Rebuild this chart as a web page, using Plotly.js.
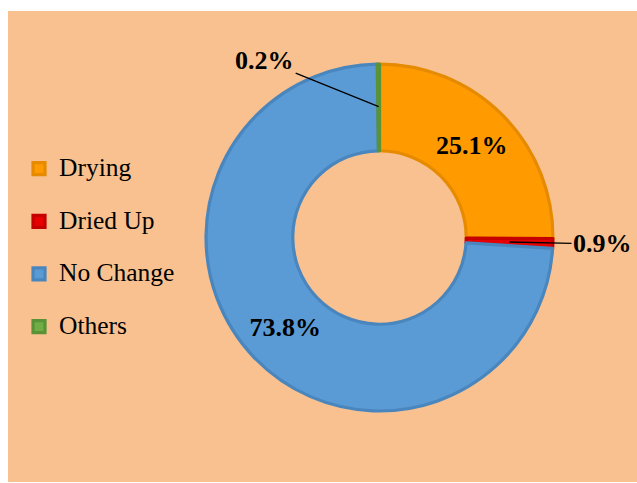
<!DOCTYPE html>
<html>
<head>
<meta charset="utf-8">
<script src="https://cdn.plot.ly/plotly-3.0.1.min.js"></script>
<style>
  html, body { margin: 0; padding: 0; background: #ffffff; width: 637px; height: 483px; overflow: hidden; }
  #chart { position: absolute; left: 8px; top: 11px; width: 629px; height: 471px; }
</style>
</head>
<body>
<div id="chart"></div>
<script>
// ---- data ----
const categories = ["Drying", "Dried Up", "No Change", "Others"];
const shares = [25.1, 0.9, 73.8, 0.2];
const fillColors = ["#FF9A00", "#E80000", "#5B9BD5", "#70AD47"];
const edgeColors = ["#E68A00", "#C40000", "#4A86BE", "#5A9238"];
const insideLabels = ["inside", "none", "inside", "none"];

// ---- geometry / layout constants ----
const W = 629, H = 471;
const domX = [0.3148, 0.8664];
const domY = [0.1508, 0.8874];
const serif = "Liberation Serif, Times New Roman, serif";

// legend labels: category text in a larger span, with a blank second line for spacing
const legendLabels = categories.map(c => '<span style="font-size:25.5px">' + c + '</span><br> ');

const trace = {
  type: "pie",
  labels: legendLabels,
  values: shares,
  sort: false,
  direction: "clockwise",
  rotation: 0,
  hole: 0.5,
  domain: { x: domX, y: domY },
  marker: { colors: fillColors, line: { color: edgeColors, width: 3.2 } },
  textinfo: "percent",
  texttemplate: "%{percent:.1%}",
  textposition: insideLabels,
  insidetextorientation: "horizontal",
  textfont: { family: serif, size: 26, color: "#000000", weight: "bold" },
  hoverinfo: "skip",
  showlegend: true
};

// leader-line annotations for the thin slices, anchored at their mid-angle
const total = shares.reduce((a, b) => a + b, 0);
const cx = (domX[0] + domX[1]) / 2, cy = (domY[0] + domY[1]) / 2;
const R = Math.min((domX[1] - domX[0]) * W, (domY[1] - domY[0]) * H) / 2;
function anchor(i, frac) {
  let cum = 0;
  for (let k = 0; k < i; k++) cum += shares[k];
  const mid = (cum + shares[i] / 2) / total * 2 * Math.PI;
  return { x: cx + frac * R * Math.sin(mid) / W, y: cy + frac * R * Math.cos(mid) / H };
}
const a1 = anchor(1, 0.75);
const a3 = anchor(3, 0.755);
const annFont = { family: serif, size: 26, color: "#000000", weight: "bold" };
const annotations = [
  { xref: "paper", yref: "paper", x: a1.x, y: a1.y, text: shares[1].toFixed(1) + "%",
    showarrow: true, arrowhead: 0, arrowwidth: 1.3, arrowcolor: "#000000",
    ax: 93, ay: 2, standoff: 0, font: annFont },
  { xref: "paper", yref: "paper", x: a3.x, y: a3.y, text: shares[3].toFixed(1) + "%",
    showarrow: true, arrowhead: 0, arrowwidth: 1.3, arrowcolor: "#000000",
    ax: -114, ay: -46, standoff: 0, font: annFont }
];

const layout = {
  width: W, height: H,
  margin: { l: 0, r: 0, t: 0, b: 0 },
  paper_bgcolor: "#F9C18F",
  plot_bgcolor: "#F9C18F",
  showlegend: true,
  legend: {
    x: 0.0175, xanchor: "left",
    y: 0.7055, yanchor: "top",
    font: { family: serif, size: 19.1, color: "#000000" },
    valign: "top",
    bgcolor: "rgba(0,0,0,0)",
    traceorder: "normal"
  },
  annotations: annotations
};

Plotly.newPlot("chart", [trace], layout, { staticPlot: true, displayModeBar: false });
</script>
</body>
</html>
